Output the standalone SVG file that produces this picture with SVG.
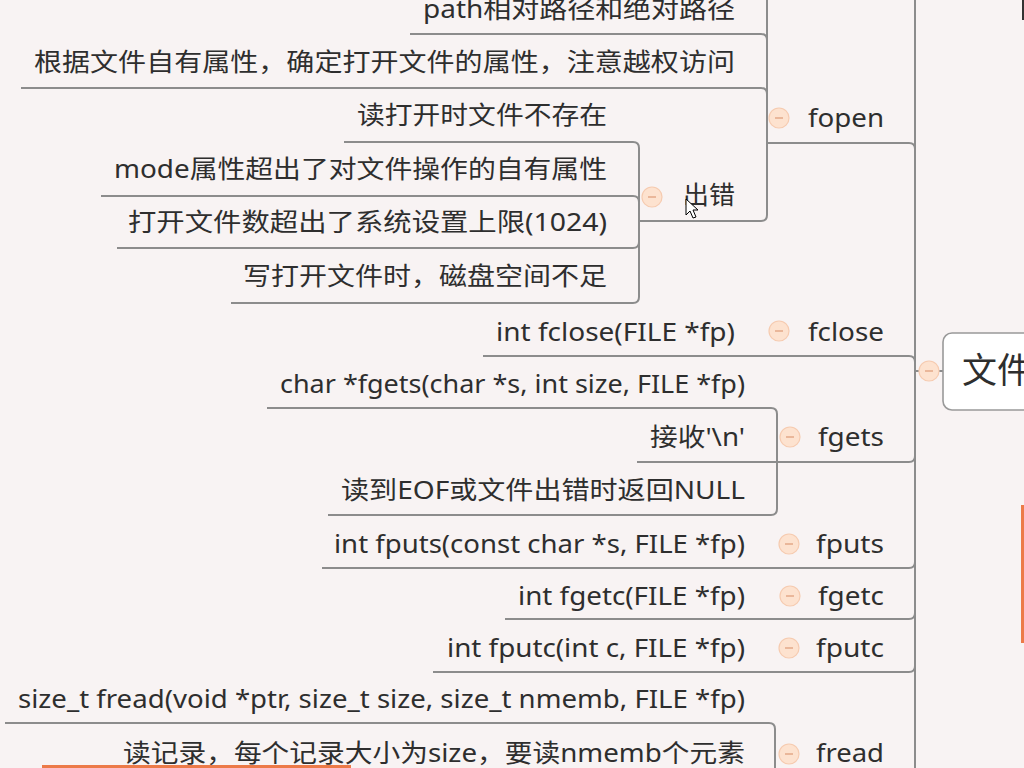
<svg xmlns="http://www.w3.org/2000/svg" width="1024" height="768" viewBox="0 0 1024 768">
<style>
.bg{fill:#f8f3f3}
.c{fill:none;stroke:#8c8c8c;stroke-width:2}
.t{font-family:"Noto Sans","Noto Sans CJK SC",sans-serif;font-size:25px;fill:#2e2e2e;text-anchor:end}
.l{font-family:"Noto Sans","Noto Sans CJK SC",sans-serif;font-size:25px;fill:#2e2e2e;text-anchor:start}
.r{font-family:"Noto Sans CJK SC","Noto Sans",sans-serif;font-size:35px;fill:#2e2e2e}
.k{fill:#fde2cf;stroke:#f6cbb0;stroke-width:1.2}
.m{stroke:#e3a888;stroke-width:1.5}
.o{fill:#ec7a48}
</style>
<defs>
<g id="col"><circle class="k" r="10"/><line class="m" x1="-4" y1="0" x2="4" y2="0"/></g>
</defs>
<rect class="bg" x="0" y="0" width="1024" height="768"/>
<g id="connectors">
<path class="c" d="M915,0 V768"/>
<path class="c" d="M915,371 H919 M939,371 H943"/>
<path class="c" d="M767,0 V215 Q767,221 761,221 H639"/>
<path class="c" d="M410,34 H761 Q767,34 767,40"/>
<path class="c" d="M21,88 H761 Q767,88 767,94"/>
<path class="c" d="M767,143 H909 Q915,143 915,149"/>
<path class="c" d="M344,142 H633 Q639,142 639,148 V297 Q639,303 633,303 H231"/>
<path class="c" d="M101,196 H633 Q639,196 639,202"/>
<path class="c" d="M117,248 H633 Q639,248 639,242"/>
<path class="c" d="M483,356 H909 Q915,356 915,362"/>
<path class="c" d="M267,408 H771 Q777,408 777,414 V509 Q777,515 771,515 H328"/>
<path class="c" d="M637,462 H909 Q915,462 915,456"/>
<path class="c" d="M322,568 H909 Q915,568 915,562"/>
<path class="c" d="M505,619 H909 Q915,619 915,613"/>
<path class="c" d="M433,672 H909 Q915,672 915,666"/>
<path class="c" d="M5,723 H769 Q775,723 775,729 V768"/>
</g>
<g id="root">
<rect x="943" y="333" width="110" height="77" rx="9" fill="#ffffff" stroke="#999" stroke-width="1.6"/>
<use href="#col" x="929" y="371"/>
<text class="r" x="962" y="383">文件</text>
</g>
<g id="fopen">
<use href="#col" x="779" y="118"/>
<text class="l" x="808" y="127" textLength="76" lengthAdjust="spacingAndGlyphs">fopen</text>
</g>
<g id="fopen-path"><text class="t" x="735" y="18" textLength="312" lengthAdjust="spacingAndGlyphs">path相对路径和绝对路径</text></g>
<g id="fopen-attr"><text class="t" x="735" y="71" textLength="701" lengthAdjust="spacingAndGlyphs">根据文件自有属性，确定打开文件的属性，注意越权访问</text></g>
<g id="err">
<use href="#col" x="652" y="197"/>
<text class="l" x="683" y="204" textLength="52" lengthAdjust="spacingAndGlyphs">出错</text>
</g>
<g id="err-1"><text class="t" x="607" y="124" textLength="250" lengthAdjust="spacingAndGlyphs">读打开时文件不存在</text></g>
<g id="err-2"><text class="t" x="607" y="178" textLength="493" lengthAdjust="spacingAndGlyphs">mode属性超出了对文件操作的自有属性</text></g>
<g id="err-3"><text class="t" x="607" y="231" textLength="479" lengthAdjust="spacingAndGlyphs">打开文件数超出了系统设置上限(1024)</text></g>
<g id="err-4"><text class="t" x="607" y="285" textLength="364" lengthAdjust="spacingAndGlyphs">写打开文件时，磁盘空间不足</text></g>
<g id="fclose">
<use href="#col" x="779" y="331"/>
<text class="l" x="808" y="341" textLength="76" lengthAdjust="spacingAndGlyphs">fclose</text>
</g>
<g id="fclose-1"><text class="t" x="735" y="341" textLength="239" lengthAdjust="spacingAndGlyphs">int fclose(FILE *fp)</text></g>
<g id="fgets">
<use href="#col" x="790" y="437"/>
<text class="l" x="818" y="446" textLength="66" lengthAdjust="spacingAndGlyphs">fgets</text>
</g>
<g id="fgets-1"><text class="t" x="745" y="393" textLength="465" lengthAdjust="spacingAndGlyphs">char *fgets(char *s, int size, FILE *fp)</text></g>
<g id="fgets-2"><text class="t" x="745" y="446" textLength="95" lengthAdjust="spacingAndGlyphs">接收'\n'</text></g>
<g id="fgets-3"><text class="t" x="745" y="499" textLength="404" lengthAdjust="spacingAndGlyphs">读到EOF或文件出错时返回NULL</text></g>
<g id="fputs">
<use href="#col" x="789" y="544"/>
<text class="l" x="816" y="553" textLength="68" lengthAdjust="spacingAndGlyphs">fputs</text>
</g>
<g id="fputs-1"><text class="t" x="745" y="553" textLength="411" lengthAdjust="spacingAndGlyphs">int fputs(const char *s, FILE *fp)</text></g>
<g id="fgetc">
<use href="#col" x="790" y="596"/>
<text class="l" x="818" y="605" textLength="66" lengthAdjust="spacingAndGlyphs">fgetc</text>
</g>
<g id="fgetc-1"><text class="t" x="745" y="605" textLength="227" lengthAdjust="spacingAndGlyphs">int fgetc(FILE *fp)</text></g>
<g id="fputc">
<use href="#col" x="789" y="648"/>
<text class="l" x="816" y="657" textLength="68" lengthAdjust="spacingAndGlyphs">fputc</text>
</g>
<g id="fputc-1"><text class="t" x="745" y="657" textLength="298" lengthAdjust="spacingAndGlyphs">int fputc(int c, FILE *fp)</text></g>
<g id="fread">
<use href="#col" x="789" y="754"/>
<text class="l" x="816" y="762" textLength="68" lengthAdjust="spacingAndGlyphs">fread</text>
</g>
<g id="fread-1"><text class="t" x="745" y="708" textLength="727" lengthAdjust="spacingAndGlyphs">size_t fread(void *ptr, size_t size, size_t nmemb, FILE *fp)</text></g>
<g id="fread-2"><text class="t" x="745" y="762" textLength="622" lengthAdjust="spacingAndGlyphs">读记录，每个记录大小为size，要读nmemb个元素</text></g>
<rect class="o" x="42" y="765" width="309" height="3"/>
<rect class="o" x="1021" y="505" width="3" height="138"/>
<rect x="1022" y="0" width="2" height="20" fill="#333"/>
<path d="M686,199 L686,215 L690,211 L693,218 L696,217 L693,210 L698,210 Z" fill="#fff" stroke="#000" stroke-width="1"/>
</svg>
